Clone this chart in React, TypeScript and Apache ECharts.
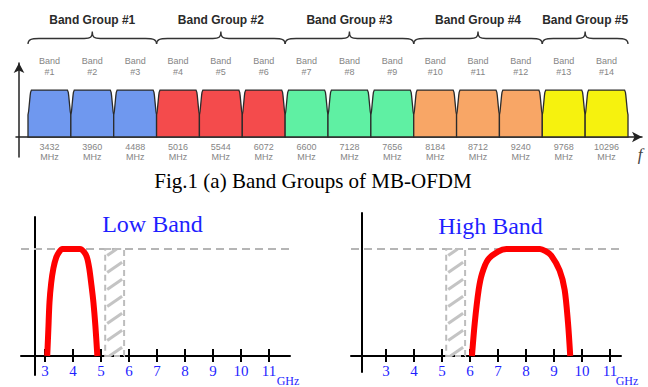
import React, { useEffect, useRef } from 'react';
import * as echarts from 'echarts';

// ---- data: MB-OFDM band plan ----
const bandCenters = [3432, 3960, 4488, 5016, 5544, 6072, 6600, 7128, 7656, 8184, 8712, 9240, 9768, 10296];
const bandNames = ['#1', '#2', '#3', '#4', '#5', '#6', '#7', '#8', '#9', '#10', '#11', '#12', '#13', '#14'];
const bandGroupOf = [0, 0, 0, 1, 1, 1, 2, 2, 2, 3, 3, 3, 4, 4];
const bandWidthMHz = 528;
const groupNames = ['Band Group #1', 'Band Group #2', 'Band Group #3', 'Band Group #4', 'Band Group #5'];
const groupStart = [3168, 4752, 6336, 7920, 9504];
const groupEnd = [4752, 6336, 7920, 9504, 10560];

// ---- data: low / high band filters (GHz, normalised level) ----
const ghzTicks = [3, 4, 5, 6, 7, 8, 9, 10, 11];
const lowBandCurve = [
  [3.08, 0], [3.12, 0.25], [3.16, 0.5], [3.22, 0.68], [3.3, 0.82], [3.4, 0.92], [3.5, 0.97],
  [3.62, 1.0], [4.25, 1.0], [4.4, 0.97], [4.5, 0.92], [4.58, 0.82], [4.66, 0.66], [4.73, 0.5],
  [4.8, 0.28], [4.87, 0],
];
const highBandCurve = [
  [6.07, 0], [6.17, 0.31], [6.31, 0.62], [6.43, 0.77], [6.64, 0.9], [7.0, 0.975], [7.3, 1.0],
  [8.5, 1.0], [8.7, 0.98], [8.9, 0.94], [9.2, 0.8], [9.38, 0.62], [9.5, 0.31], [9.58, 0],
];
const uniiBand = [5.15, 5.825];
const passLevel = 1;

// ---- styles ----
const groupColors = ['#6f98ef', '#f44b4c', '#5ff0a3', '#f8a666', '#f6f20e'];
const bandShape = [
  [-1, 0], [-1, 0.48], [-0.97, 0.56], [-0.9, 0.9], [-0.88, 0.97], [-0.84, 1.02],
  [0.84, 1.02], [0.88, 0.97], [0.9, 0.9], [0.97, 0.56], [1, 0.48], [1, 0],
];
const smallFont = '"Liberation Sans Narrow", "Arial Narrow", "Liberation Sans", Arial, sans-serif';
const serif = '"Liberation Serif", "Times New Roman", serif';
const blue = '#1f1fff';

function hatchItem(params: any, api: any) {
  const p0 = api.coord([api.value(0), 0]);
  const p1 = api.coord([api.value(1), passLevel]);
  const xl = p0[0], xr = p1[0], yb = p0[1], yt = p1[1];
  const k = 0.7, step = 17;
  const children: any[] = [];
  for (let ys = yt + 8; ys < yb + k * (xr - xl); ys += step) {
    const xa = Math.max(xl + 2, xl + (ys - yb) / k);
    const xb = Math.min(xr - 2, xl + (ys - yt) / k);
    if (xb > xa) {
      children.push({
        type: 'line',
        shape: { x1: xa, y1: ys - k * (xa - xl), x2: xb, y2: ys - k * (xb - xl) },
        style: { stroke: '#c4c4c4', lineWidth: 3 },
      });
    }
  }
  children.push({
    type: 'rect',
    shape: { x: xl, y: yt, width: xr - xl, height: yb - yt },
    style: { fill: 'none', stroke: '#bdbdbd', lineWidth: 2, lineDash: [6, 4] },
  });
  return { type: 'group', children };
}

function bottomAxes(gridIndex: number, min: number, max: number, offset: number) {
  return [
    {
      type: 'value', gridIndex, min, max, position: 'bottom', offset,
      axisLine: { show: true, onZero: false, lineStyle: { color: '#000', width: 2 } },
      axisTick: { show: true, customValues: ghzTicks, length: 6, lineStyle: { color: '#000', width: 2 } },
      axisLabel: { show: true, customValues: ghzTicks, color: blue, fontFamily: serif, fontSize: 15, margin: 7 },
      splitLine: { show: false },
    },
    {
      type: 'value', gridIndex, min, max, position: 'bottom', offset,
      axisLine: { show: false, onZero: false },
      axisTick: { show: true, inside: true, customValues: ghzTicks, length: 7, lineStyle: { color: '#000', width: 2 } },
      axisLabel: { show: false },
      splitLine: { show: false },
    },
  ];
}

function leftAxis(gridIndex: number, min: number, max: number, offset: number) {
  return {
    type: 'value', gridIndex, min, max, position: 'left', offset,
    axisLine: { show: true, onZero: false, lineStyle: { color: '#000', width: 2 } },
    axisTick: { show: false }, axisLabel: { show: false }, splitLine: { show: false },
  };
}

const dashedLevel = {
  silent: true, symbol: 'none', label: { show: false }, z: 1,
  lineStyle: { color: '#b5b5b5', type: [8, 5], width: 2 },
  data: [{ yAxis: passLevel }],
};

const option: any = {
  animation: false,
  backgroundColor: '#fff',
  grid: [
    { left: 16, top: 63, width: 626, height: 94, outerBoundsMode: 'none' },
    { left: 21, top: 217, width: 269, height: 158, outerBoundsMode: 'none' },
    { left: 351, top: 213, width: 270, height: 159, outerBoundsMode: 'none' },
  ],
  xAxis: [
    {
      type: 'value', gridIndex: 0, min: 3020.2, max: 10732.4, position: 'bottom', offset: -20,
      axisLine: { show: true, onZero: false, symbol: ['none', 'arrow'], symbolSize: [8, 10], lineStyle: { color: '#222', width: 1.5 } },
      axisTick: { show: false }, axisLabel: { show: false }, splitLine: { show: false },
    },
    ...bottomAxes(1, 2.143, 11.75, -19),
    ...bottomAxes(2, 1.75, 11.393, -16),
  ],
  yAxis: [
    {
      type: 'value', gridIndex: 0, min: -0.4348, max: 1.6087, position: 'left', offset: -3,
      axisLine: { show: true, onZero: false, symbol: ['none', 'arrow'], symbolSize: [8, 10], lineStyle: { color: '#222', width: 1.5 } },
      axisTick: { show: false }, axisLabel: { show: false }, splitLine: { show: false },
    },
    leftAxis(1, -0.1776, 1.2991, -14),
    leftAxis(2, -0.1495, 1.3364, -11),
  ],
  graphic: [
    { type: 'text', x: 313, y: 181, style: { text: 'Fig.1 (a) Band Groups of MB-OFDM', align: 'center', verticalAlign: 'middle', font: `21px ${serif}`, fill: '#000' } },
    { type: 'text', x: 152.5, y: 224, style: { text: 'Low Band', align: 'center', verticalAlign: 'middle', font: `24px ${serif}`, fill: blue } },
    { type: 'text', x: 490.5, y: 226, style: { text: 'High Band', align: 'center', verticalAlign: 'middle', font: `24px ${serif}`, fill: blue } },
    { type: 'text', x: 288, y: 381, style: { text: 'GHz', align: 'center', verticalAlign: 'middle', font: `12px ${serif}`, fill: blue } },
    { type: 'text', x: 627, y: 381, style: { text: 'GHz', align: 'center', verticalAlign: 'middle', font: `12px ${serif}`, fill: blue } },
    { type: 'text', x: 640, y: 154, style: { text: 'f', align: 'center', verticalAlign: 'middle', font: `italic 17px ${serif}`, fill: '#444' } },
  ],
  series: [
    {
      type: 'custom', name: 'bands', xAxisIndex: 0, yAxisIndex: 0, clip: false, silent: true,
      data: bandCenters.map((c, i) => [c, bandGroupOf[i], i]),
      renderItem: (params: any, api: any) => {
        const c = api.value(0);
        const g = api.value(1);
        const i = params.dataIndex;
        const half = bandWidthMHz / 2;
        const pts = bandShape.map(([fx, lv]) => api.coord([c + fx * half, lv]));
        const top = api.coord([c, 1]);
        const base = api.coord([c, 0]);
        const lbl = { align: 'center', verticalAlign: 'middle', font: `9px ${smallFont}`, fill: '#858585' };
        return {
          type: 'group',
          children: [
            { type: 'polygon', shape: { points: pts }, style: { fill: groupColors[g], stroke: '#2b2b2b', lineWidth: 1.3 } },
            { type: 'text', x: top[0], y: top[1] - 30, style: { ...lbl, text: 'Band' } },
            { type: 'text', x: top[0], y: top[1] - 19, style: { ...lbl, text: bandNames[i] } },
            { type: 'text', x: base[0], y: base[1] + 10, style: { ...lbl, text: String(c) } },
            { type: 'text', x: base[0], y: base[1] + 20.5, style: { ...lbl, text: 'MHz' } },
          ],
        };
      },
    },
    {
      type: 'custom', name: 'groups', xAxisIndex: 0, yAxisIndex: 0, clip: false, silent: true,
      data: groupStart.map((s, i) => [s, groupEnd[i], i]),
      renderItem: (params: any, api: any) => {
        const a = api.coord([api.value(0), 1]);
        const b = api.coord([api.value(1), 1]);
        const x0 = a[0], x1 = b[0], m = (x0 + x1) / 2, yt = a[1];
        const yEnd = yt - 47, yLine = yt - 52.5, yTip = yt - 59.5;
        const d = `M${x0},${yEnd} C${x0},${yLine + 1} ${x0 + 3},${yLine} ${x0 + 11},${yLine} ` +
          `L${m - 8},${yLine} C${m - 2},${yLine} ${m},${yLine - 1} ${m},${yTip} ` +
          `C${m},${yLine - 1} ${m + 2},${yLine} ${m + 8},${yLine} ` +
          `L${x1 - 11},${yLine} C${x1 - 3},${yLine} ${x1},${yLine + 1} ${x1},${yEnd}`;
        return {
          type: 'group',
          children: [
            { type: 'path', shape: { pathData: d }, style: { fill: 'none', stroke: '#333', lineWidth: 1.3 } },
            {
              type: 'text', x: m, y: yt - 70.5,
              style: { text: groupNames[params.dataIndex], align: 'center', verticalAlign: 'middle', font: 'bold 12px "Liberation Sans", Arial, sans-serif', fill: '#2a2a2a' },
            },
          ],
        };
      },
    },
    {
      type: 'custom', name: 'unii-low', xAxisIndex: 1, yAxisIndex: 1, clip: false, silent: true,
      data: [uniiBand], renderItem: hatchItem, markLine: dashedLevel, z: 1,
    },
    {
      type: 'custom', name: 'unii-high', xAxisIndex: 3, yAxisIndex: 2, clip: false, silent: true,
      data: [uniiBand], renderItem: hatchItem, markLine: dashedLevel, z: 1,
    },
    {
      type: 'line', name: 'Low Band', xAxisIndex: 1, yAxisIndex: 1, data: lowBandCurve,
      smooth: 0.3, showSymbol: false, lineStyle: { color: '#ff0000', width: 6 }, itemStyle: { color: '#ff0000' },
      z: 3,
    },
    {
      type: 'line', name: 'High Band', xAxisIndex: 3, yAxisIndex: 2, data: highBandCurve,
      smooth: 0.3, showSymbol: false, lineStyle: { color: '#ff0000', width: 6 }, itemStyle: { color: '#ff0000' },
      z: 3,
    },
  ],
};

export default function App() {
  const ref = useRef<HTMLDivElement>(null);
  useEffect(() => {
    const chart = echarts.init(ref.current!, null, { renderer: 'svg' });
    chart.setOption(option);
    return () => chart.dispose();
  }, []);
  return (
    <div
      ref={ref}
      style={{ position: 'fixed', left: 0, top: 0, width: 648, height: 387, background: '#fff' }}
    />
  );
}
